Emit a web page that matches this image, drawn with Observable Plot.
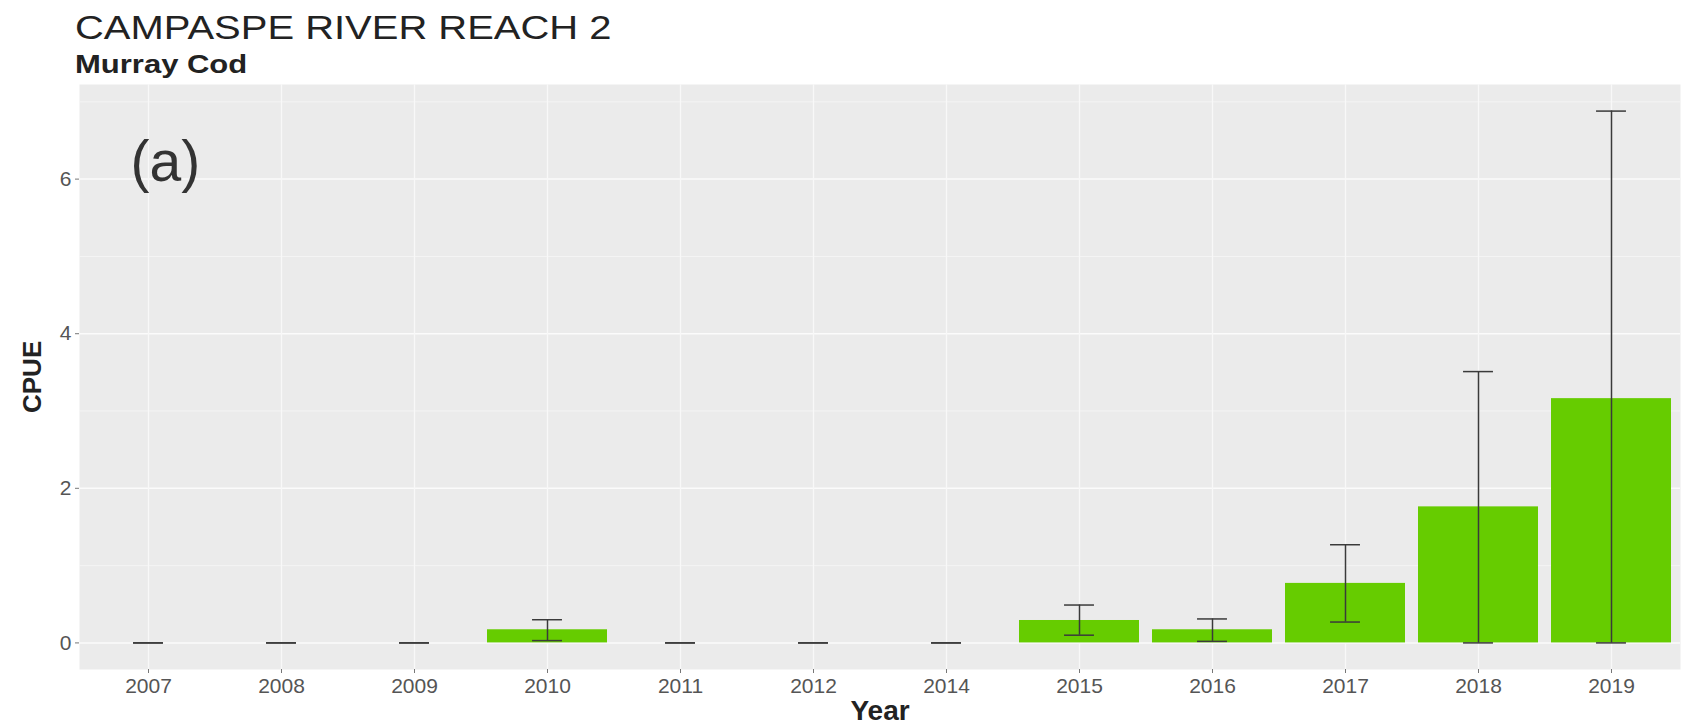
<!DOCTYPE html>
<html>
<head>
<meta charset="utf-8">
<script src="https://cdn.jsdelivr.net/npm/d3@7"></script>
<script src="https://cdn.jsdelivr.net/npm/@observablehq/plot@0.6"></script>
<style>
  html, body { margin: 0; padding: 0; background: #fff; }
  body { width: 1686px; height: 728px; position: relative; overflow: hidden; font-family: "Liberation Sans", Arial, sans-serif; }
  #title { position: absolute; left: 75px; top: 10px; font-size: 34px; color: #222; line-height: 1; white-space: nowrap; transform: scaleX(1.175); transform-origin: left top; }
  #subtitle { position: absolute; left: 75px; top: 52px; font-size: 25px; font-weight: bold; color: #222; line-height: 1; white-space: nowrap; transform: scaleX(1.24); transform-origin: left top; }
  #chart { position: absolute; left: 0; top: 74px; }
</style>
</head>
<body>
<div id="title">CAMPASPE RIVER REACH 2</div>
<div id="subtitle">Murray Cod</div>
<div id="chart"></div>
<script>
const years = ["2007","2008","2009","2010","2011","2012","2014","2015","2016","2017","2018","2019"];
const cpue  = [0, 0, 0, 0.17, 0, 0, 0, 0.29, 0.17, 0.77, 1.76, 3.16];
const lower = [0, 0, 0, 0.03, 0, 0, 0, 0.10, 0.02, 0.27, 0, 0];
const upper = [0, 0, 0, 0.30, 0, 0, 0, 0.49, 0.31, 1.27, 3.51, 6.88];
const yTicks = [0, 2, 4, 6];
const yMinor = [1, 3, 5, 7];
const panelTag = "(a)";
const xTitle = "Year";
const yTitle = "CPUE";

const data = years.map((y, i) => ({year: y, cpue: cpue[i], lo: lower[i], hi: upper[i]}));
const caps = data.flatMap(d => [{year: d.year, v: d.lo}, {year: d.year, v: d.hi}]);

const W = 1686, H = 654;
const mL = 79, mR = 6, mT = 10, mB = 59;
const step = (W - mL - mR) / years.length;
const bandW = step * 0.9;
const capW = 30;
const capInset = (bandW - capW) / 2;

const yMax = Math.max(...upper);
const expand = yMax * 0.05;

const plot = Plot.plot({
  width: W,
  height: H,
  marginLeft: mL,
  marginRight: mR,
  marginTop: mT,
  marginBottom: mB,
  style: {fontFamily: "Liberation Sans, Arial, sans-serif", background: "transparent"},
  x: {type: "band", domain: years, paddingInner: 0.1, paddingOuter: 0.05, label: null},
  y: {domain: [-expand, yMax + expand], label: null},
  marks: [
    Plot.frame({fill: "#EBEBEB", stroke: null}),
    Plot.ruleY(yMinor, {stroke: "#f6f6f6", strokeWidth: 0.8}),
    Plot.ruleY(yTicks, {stroke: "#fbfbfb", strokeWidth: 1.5}),
    Plot.tickX(years, {x: d => d, stroke: "#f8f8f8", strokeWidth: 1.3}),
    Plot.barY(data, {x: "year", y: "cpue", fill: "#66CC00"}),
    Plot.ruleX(data, {x: "year", y1: "lo", y2: "hi", stroke: "#3a3a3a", strokeWidth: 1.5}),
    Plot.tickY(caps, {x: "year", y: "v", stroke: "#3a3a3a", strokeWidth: 1.5, insetLeft: capInset, insetRight: capInset}),
    Plot.text([panelTag], {frameAnchor: "top-left", dx: 51, dy: 78, text: d => d, fontSize: 57, fill: "#333", textAnchor: "start", lineAnchor: "middle"}),
    Plot.axisX({tickSize: 4, tickPadding: 5, fontSize: 21, color: "#555", stroke: "#777", label: null}),
    Plot.axisY({ticks: yTicks, tickSize: 4, tickPadding: 4, fontSize: 21, color: "#555", stroke: "#777", label: null}),
    Plot.text([xTitle], {frameAnchor: "bottom", dy: 42, text: d => d, fontSize: 28, fontWeight: "bold", fill: "#222", lineAnchor: "middle"}),
    Plot.text([yTitle], {frameAnchor: "left", dx: -47, dy: 36, text: d => d, fontSize: 26, fontWeight: "bold", fill: "#222", rotate: -90, lineAnchor: "middle"})
  ]
});
document.getElementById("chart").appendChild(plot);
</script>
</body>
</html>
